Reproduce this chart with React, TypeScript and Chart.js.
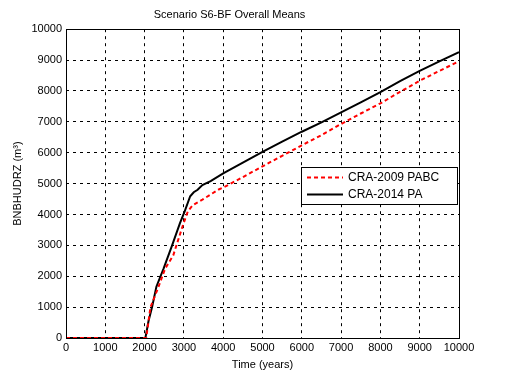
import React, { useEffect, useRef } from "react";
import { Chart, registerables } from "chart.js";

Chart.register(...registerables);

const titleText = "Scenario S6-BF Overall Means";
const xTitle = "Time (years)";
const yTitle = "BNBHUDRZ (m³)";
const seriesNames = ["CRA-2009 PABC", "CRA-2014 PA"];

const redTimes = [0, 2040, 2150, 2355, 2520, 2730, 2810, 2975, 3100, 3225, 3470, 3885, 4000, 4500, 5000, 5500, 6000, 6500, 7000, 7500, 8000, 8500, 9000, 9500, 10000];
const redValues = [0, 0, 1000, 1660, 2240, 2680, 3000, 3650, 4100, 4300, 4480, 4810, 4870, 5210, 5560, 5900, 6240, 6570, 6930, 7270, 7600, 7970, 8330, 8650, 8960];

const blackTimes = [0, 2020, 2100, 2190, 2300, 2480, 2700, 2900, 3020, 3160, 3250, 3350, 3470, 3680, 4000, 4500, 5000, 5500, 6000, 6500, 7000, 7500, 8000, 8500, 9000, 9500, 10000];
const blackValues = [0, 0, 550, 1000, 1660, 2240, 3000, 3720, 4100, 4590, 4720, 4800, 4950, 5080, 5330, 5680, 6030, 6360, 6680, 6980, 7310, 7630, 7960, 8320, 8650, 8960, 9260];

const FONT = "Arial, 'Liberation Sans', sans-serif";

const boxPlugin = {
  id: "boxAndLegend",
  afterDraw(chart: any) {
    const { ctx, chartArea } = chart;
    const { left, right, top, bottom } = chartArea;
    ctx.save();
    ctx.strokeStyle = "#000";
    ctx.lineWidth = 1;
    ctx.setLineDash([]);
    ctx.strokeRect(Math.round(left) + 0.5, Math.round(top) + 0.5, Math.round(right - left), Math.round(bottom - top));

    // legend
    const lx = 301, ly = 167, lw = 156, lh = 37;
    ctx.fillStyle = "#fff";
    ctx.fillRect(lx, ly, lw, lh);
    ctx.strokeRect(lx + 0.5, ly + 0.5, lw, lh);
    const ds = chart.data.datasets;
    const rows = [177.5, 194.5];
    ds.forEach((d: any, i: number) => {
      ctx.beginPath();
      ctx.strokeStyle = d.borderColor;
      ctx.lineWidth = 2;
      ctx.setLineDash(d.borderDash || []);
      ctx.moveTo(307, rows[i]);
      ctx.lineTo(343, rows[i]);
      ctx.stroke();
      ctx.setLineDash([]);
      ctx.fillStyle = "#000";
      ctx.font = "12px " + FONT;
      ctx.textBaseline = "middle";
      ctx.textAlign = "left";
      ctx.fillText(d.label, 348, rows[i]);
    });
    ctx.restore();
  },
};

const plain = (v: any) => String(v);

export default function App() {
  const ref = useRef<HTMLCanvasElement>(null);
  useEffect(() => {
    const red = redTimes.map((t, i) => ({ x: t, y: redValues[i] }));
    const black = blackTimes.map((t, i) => ({ x: t, y: blackValues[i] }));
    const chart = new Chart(ref.current as HTMLCanvasElement, {
      type: "line",
      data: {
        datasets: [
          {
            label: seriesNames[0],
            data: red,
            borderColor: "#ff0000",
            borderWidth: 2,
            borderDash: [4, 3],
            pointRadius: 0,
            tension: 0,
            fill: false,
          },
          {
            label: seriesNames[1],
            data: black,
            borderColor: "#000000",
            borderWidth: 2,
            pointRadius: 0,
            tension: 0,
            fill: false,
          },
        ],
      },
      options: {
        responsive: false,
        animation: false,
        layout: { padding: { left: 0, right: 49, top: 0, bottom: 0 } },
        plugins: {
          legend: { display: false },
          tooltip: { enabled: false },
          title: {
            display: true,
            text: titleText,
            color: "#000",
            font: { family: FONT, size: 11, weight: "normal" },
            padding: { top: 8, bottom: 8 },
          },
        },
        scales: {
          x: {
            type: "linear",
            min: 0,
            max: 10000,
            afterFit: (s: any) => { s.height = 43; },
            ticks: { stepSize: 1000, color: "#000", font: { family: FONT, size: 11 }, padding: 3, maxRotation: 0, autoSkip: false, callback: plain },
            grid: { color: "#000", lineWidth: 1, drawTicks: false },
            border: { display: false, dash: [3, 4] },
            title: { display: true, text: xTitle, color: "#000", font: { family: FONT, size: 11 }, padding: { top: 0, bottom: 9 } },
          },
          y: {
            type: "linear",
            min: 0,
            max: 10000,
            afterFit: (s: any) => { s.width = 66; },
            ticks: { stepSize: 1000, color: "#000", font: { family: FONT, size: 11 }, padding: 4, autoSkip: false, callback: plain },
            grid: { color: "#000", lineWidth: 1, drawTicks: false },
            border: { display: false, dash: [3, 4] },
            title: { display: true, text: yTitle, color: "#000", font: { family: FONT, size: 11 }, padding: { top: 11, bottom: 0 } },
          },
        },
      },
      plugins: [boxPlugin],
    } as any);
    return () => chart.destroy();
  }, []);
  return (
    <div style={{ position: "fixed", left: 0, top: 0, width: 508, height: 381, background: "#fff" }}>
      <canvas ref={ref} width={508} height={381} style={{ display: "block", width: 508, height: 381 }} />
    </div>
  );
}
